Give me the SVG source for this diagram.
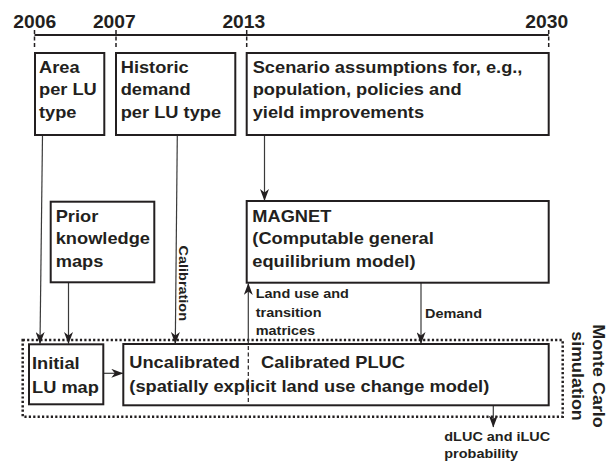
<svg xmlns="http://www.w3.org/2000/svg" width="609" height="465" viewBox="0 0 609 465">
<style>
text { font-family: "Liberation Sans", Arial, Helvetica, sans-serif; font-weight: bold; fill: #231f20; }
.t18 { font-size: 18px; }
.t16 { font-size: 16.3px; }
.t13 { font-size: 12.8px; }
.box { fill: #fff; stroke: #231f20; stroke-width: 2; }
.conn { fill: none; stroke: #3a3a3a; stroke-width: 1.2; }
.tick { fill: none; stroke: #231f20; stroke-width: 1.5; stroke-dasharray: 4 2.5; }
.dots { fill: none; stroke: #231f20; stroke-width: 2.5; stroke-dasharray: 2.2 2.2; }
</style>
<defs>
<marker id="ah" markerUnits="userSpaceOnUse" viewBox="0 0 12 9" markerWidth="12" markerHeight="9" refX="11.5" refY="4.5" orient="auto">
<path d="M0,0 L12,4.5 L0,9 L3.5,4.5 Z" fill="#231f20"/>
</marker>
</defs>
<rect width="609" height="465" fill="#fff"/>

<g id="timeline">
<line x1="34.5" y1="35" x2="548.7" y2="35" stroke="#231f20" stroke-width="2.2"/>
<line class="tick" x1="34.5" y1="30" x2="34.5" y2="49"/>
<line class="tick" x1="116" y1="30" x2="116" y2="49"/>
<line class="tick" x1="246.7" y1="30" x2="246.7" y2="49"/>
<line class="tick" x1="548.7" y1="30" x2="548.7" y2="49"/>
<text class="t18" text-anchor="middle" transform="translate(34.7,28) scale(1.07,1)">2006</text>
<text class="t18" text-anchor="middle" transform="translate(114.3,28) scale(1.07,1)">2007</text>
<text class="t18" text-anchor="middle" transform="translate(243.8,28) scale(1.07,1)">2013</text>
<text class="t18" text-anchor="middle" transform="translate(546.7,28) scale(1.07,1)">2030</text>
</g>

<g id="montecarlo">
<rect class="dots" x="22.7" y="340" width="540" height="76.7"/>
<text class="t16" text-anchor="middle" transform="translate(593,376) rotate(90) scale(1.1,1)"><tspan x="0" y="0">Monte Carlo</tspan><tspan x="0" y="21.5">simulation</tspan></text>
</g>

<g id="connectors">
<line class="conn" x1="42.5" y1="135" x2="40" y2="343.5" marker-end="url(#ah)"/>
<line class="conn" x1="68.5" y1="282.3" x2="68.5" y2="343.5" marker-end="url(#ah)"/>
<line class="conn" x1="177.3" y1="135" x2="175.3" y2="343.5" marker-end="url(#ah)"/>
<line class="conn" x1="264.5" y1="135" x2="264.5" y2="200.5" marker-end="url(#ah)"/>
<line class="conn" x1="421" y1="282.7" x2="421" y2="343.5" marker-end="url(#ah)"/>
<line class="conn" x1="248.3" y1="343" x2="248.3" y2="283.5" marker-end="url(#ah)"/>
<line class="conn" x1="103.3" y1="373.3" x2="122.8" y2="373.3" marker-end="url(#ah)"/>
<line class="conn" x1="493.3" y1="405.3" x2="493.3" y2="427" marker-end="url(#ah)"/>
<text class="t13" text-anchor="middle" transform="translate(178.5,283.3) rotate(90) scale(1.13,1)">Calibration</text>
<text class="t13" transform="translate(255.7,298.3) scale(1.13,1)"><tspan x="0" y="0">Land use and</tspan><tspan x="0" y="18.3">transition</tspan><tspan x="0" y="36.6">matrices</tspan></text>
<text class="t13" transform="translate(425,318.3) scale(1.13,1)">Demand</text>
<text class="t13" transform="translate(444.3,440.7) scale(1.13,1)"><tspan x="0" y="0">dLUC and iLUC</tspan><tspan x="0" y="17.6">probability</tspan></text>
</g>

<g id="area">
<rect class="box" x="35" y="53" width="69.3" height="82"/>
<text class="t16" transform="translate(39,72.7) scale(1.12,1)"><tspan x="0" y="0">Area</tspan><tspan x="0" y="22.7">per LU</tspan><tspan x="0" y="45.4">type</tspan></text>
</g>

<g id="historic">
<rect class="box" x="116" y="53" width="119.3" height="82"/>
<text class="t16" transform="translate(120.7,72.7) scale(1.12,1)"><tspan x="0" y="0">Historic</tspan><tspan x="0" y="22.7">demand</tspan><tspan x="0" y="45.4">per LU type</tspan></text>
</g>

<g id="scenario">
<rect class="box" x="246.7" y="53" width="302" height="82"/>
<text class="t16" transform="translate(252.7,72.7) scale(1.12,1)"><tspan x="0" y="0">Scenario assumptions for, e.g.,</tspan><tspan x="0" y="22.7">population, policies and</tspan><tspan x="0" y="45.4">yield improvements</tspan></text>
</g>

<g id="prior">
<rect class="box" x="50.7" y="201.7" width="103.6" height="80.6"/>
<text class="t16" transform="translate(55.7,221.7) scale(1.12,1)"><tspan x="0" y="0">Prior</tspan><tspan x="0" y="22.5">knowledge</tspan><tspan x="0" y="45">maps</tspan></text>
</g>

<g id="magnet">
<rect class="box" x="246.7" y="201" width="302" height="81.7"/>
<text class="t16" transform="translate(252.3,221.7) scale(1.12,1)"><tspan x="0" y="0">MAGNET</tspan><tspan x="0" y="22.5">(Computable general</tspan><tspan x="0" y="45">equilibrium model)</tspan></text>
</g>

<g id="initial">
<rect class="box" x="29" y="344.3" width="74.3" height="60"/>
<text class="t16" transform="translate(32,369.3) scale(1.12,1)"><tspan x="0" y="0">Initial</tspan><tspan x="0" y="23.4">LU map</tspan></text>
</g>

<g id="pluc">
<rect class="box" x="123.3" y="344" width="425.4" height="61.3"/>
<line x1="248.3" y1="346" x2="248.3" y2="403" stroke="#231f20" stroke-width="1.2" stroke-dasharray="4 2.5"/>
<text class="t16" transform="translate(129.3,368.3) scale(1.12,1)"><tspan x="0" y="0">Uncalibrated</tspan><tspan x="0" y="23.4">(spatially explicit land use change model)</tspan></text>
<text class="t16" transform="translate(261,368.3) scale(1.12,1)">Calibrated PLUC</text>
</g>
</svg>
